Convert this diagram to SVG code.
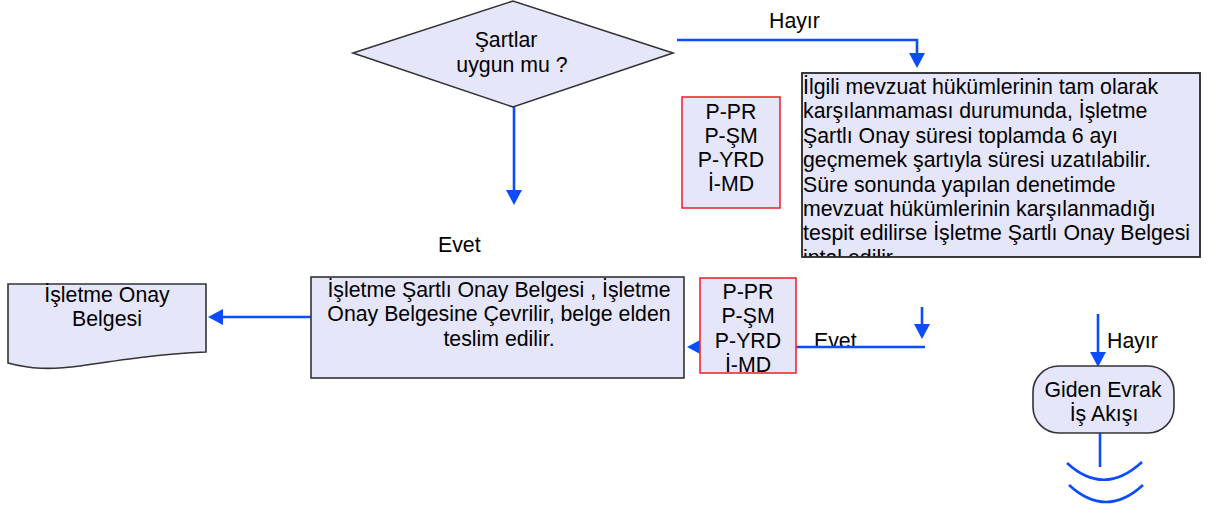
<svg xmlns="http://www.w3.org/2000/svg" width="1210" height="508" viewBox="0 0 1210 508">
<style>
text{font-family:"Liberation Sans",Arial,sans-serif;font-size:21.3px;fill:#000}
.c{text-anchor:middle}
.node{fill:#e6e6fa;stroke:#333;stroke-width:1.6}
.ref{fill:#e6e6fa;stroke:#ee2b2b;stroke-width:1.6}
.con{fill:none;stroke:#0b4dfb;stroke-width:2.6}
</style>
<defs>
<marker id="ah" markerWidth="16" markerHeight="16" refX="11" refY="8" orient="auto" markerUnits="userSpaceOnUse">
<path d="M0,0 L15,8 L0,16 z" fill="#0b4dfb"/>
</marker>
<clipPath id="bigclip"><rect x="802" y="73" width="398" height="184"/></clipPath>
</defs>
<g id="labels">
<text x="769" y="28">Hayır</text>
<text x="438" y="252">Evet</text>
<text x="814" y="348">Evet</text>
<text x="1107" y="348">Hayır</text>
</g>
<g id="connectors">
<path class="con" d="M514,107 L514,201" marker-end="url(#ah)"/>
<path class="con" d="M677,40 L917,40 L917,64" marker-end="url(#ah)"/>
<path class="con" d="M311,317 L212,317" marker-end="url(#ah)"/>
<path class="con" d="M925,347 L691,347" marker-end="url(#ah)"/>
<path class="con" d="M922,307 L922,335" marker-end="url(#ah)"/>
<path class="con" d="M1098,314 L1098,363" marker-end="url(#ah)"/>
<path class="con" d="M1100,433 L1100,467"/>
<path class="con" stroke-width="2" d="M1067,463 Q1104,497 1142,462"/>
<path class="con" stroke-width="2" d="M1069,485 Q1106,519 1143,485"/>
</g>
<g id="decision">
<polygon class="node" points="353,53 513,1 673,53 513,107"/>
<text class="c" x="506" y="47">Şartlar</text>
<text class="c" x="512" y="72">uygun mu ?</text>
</g>
<g id="refs1">
<rect class="ref" x="682" y="97" width="98" height="111"/>
<text class="c" x="731" y="119">P-PR</text>
<text class="c" x="731" y="143">P-ŞM</text>
<text class="c" x="731" y="167">P-YRD</text>
<text class="c" x="731" y="191">İ-MD</text>
</g>
<g id="extension">
<rect class="node" x="802" y="73" width="398" height="184"/>
<g clip-path="url(#bigclip)">
<text x="803" y="94">İlgili mevzuat hükümlerinin tam olarak</text>
<text x="803" y="118.4">karşılanmaması durumunda, İşletme</text>
<text x="803" y="142.8">Şartlı Onay süresi toplamda 6 ayı</text>
<text x="803" y="167.2">geçmemek şartıyla süresi uzatılabilir.</text>
<text x="803" y="191.6">Süre sonunda yapılan denetimde</text>
<text x="803" y="216">mevzuat hükümlerinin karşılanmadığı</text>
<text x="803" y="240.4">tespit edilirse İşletme Şartlı Onay Belgesi</text>
<text x="803" y="264.8">iptal edilir.</text>
</g>
<rect x="802" y="73" width="398" height="184" fill="none" stroke="#333" stroke-width="1.6"/>
</g>
<g id="convert">
<rect class="node" x="311" y="277" width="373" height="101"/>
<text class="c" x="499" y="297">İşletme Şartlı Onay Belgesi , İşletme</text>
<text class="c" x="499" y="321.4">Onay Belgesine Çevrilir, belge elden</text>
<text class="c" x="499" y="345.8">teslim edilir.</text>
</g>
<g id="refs2">
<rect class="ref" x="700" y="278" width="96" height="95"/>
<text class="c" x="748" y="299">P-PR</text>
<text class="c" x="748" y="323">P-ŞM</text>
<text class="c" x="748" y="348">P-YRD</text>
<text class="c" x="748" y="372">İ-MD</text>
</g>
<g id="document">
<path class="node" d="M8,284 L206,284 L206,352 C160,354 120,360 80,366 C50,370 30,369 8,363 Z"/>
<text class="c" x="107" y="302">İşletme Onay</text>
<text class="c" x="107" y="326">Belgesi</text>
</g>
<g id="outgoing">
<rect class="node" x="1033" y="366" width="141" height="67" rx="26" ry="26"/>
<text class="c" x="1103" y="397">Giden Evrak</text>
<text class="c" x="1104" y="421">İş Akışı</text>
</g>
</svg>
